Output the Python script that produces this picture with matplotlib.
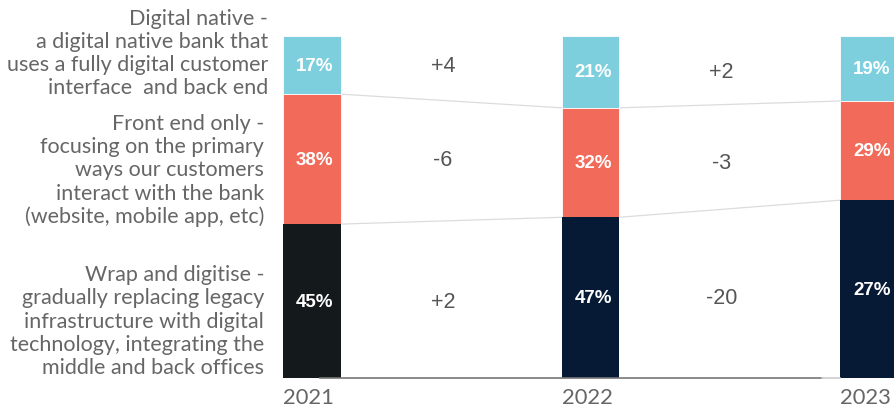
import matplotlib.pyplot as plt

years = ["2021", "2022", "2023"]
digital_native = [17, 21, 19]
front_end = [38, 32, 29]
wrap_digitise = [45, 47, 27]
changes = [["+4", "+2"], ["-6", "-3"], ["+2", "-20"]]

categories = [
    "Digital native -\na digital native bank that\nuses a fully digital customer\ninterface  and back end",
    "Front end only -\nfocusing on the primary\nways our customers\ninteract with the bank\n(website, mobile app, etc)",
    "Wrap and digitise -\ngradually replacing legacy\ninfrastructure with digital\ntechnology, integrating the\nmiddle and back offices",
]

BLUE = "#7dcfdd"
CORAL = "#f26a5a"
DARK = ["#141a1b", "#061a36", "#061a36"]
GREY_TXT = "#666666"

fig = plt.figure(figsize=(8.94, 4.10), dpi=100)
ax = fig.add_axes([0, 0, 1, 1])
ax.set_xlim(-1.1203, 2.0898)
ax.set_ylim(-9.06, 110.82)
ax.axis("off")

x = list(range(len(years)))
width = 0.205

# bars hang down from 100: digital native on top, then front end, wrap fills to the base
for i in x:
    top2 = 100 - digital_native[i]
    top3 = top2 - front_end[i]
    ax.bar(i, digital_native[i], width, bottom=top2, color=BLUE, edgecolor="white", linewidth=0.6)
    ax.bar(i, front_end[i], width, bottom=top3, color=CORAL, edgecolor="white", linewidth=0.6)
    ax.bar(i, top3, width, bottom=0, color=DARK[i], linewidth=0)
    mids = [100 - digital_native[i] / 2, top2 - front_end[i] / 2, top3 / 2]
    vals = [digital_native[i], front_end[i], wrap_digitise[i]]
    for m, v in zip(mids, vals):
        ax.text(i + 0.01, m, f"{v}%", ha="center", va="center", color="white",
                fontsize=13.5, fontweight="bold", family="Liberation Sans")
    ax.text(i - width / 2, -5.6, years[i], ha="left", va="center", color=GREY_TXT,
            fontsize=15.8, family="Lato")

# connector lines between segment boundaries
for i in x[:-1]:
    for cut in (lambda k: 100 - digital_native[k], lambda k: 100 - digital_native[k] - front_end[k]):
        ax.plot([i + width / 2, i + 1 - width / 2], [cut(i), cut(i + 1)],
                color="#dcdcdc", lw=0.9, zorder=0)
    mids = [100 - digital_native[i] / 2,
            100 - digital_native[i] - front_end[i] / 2,
            (100 - digital_native[i] - front_end[i]) / 2]
    for row, m in enumerate(mids):
        ax.text(i + 0.47, m, changes[row][i], ha="center", va="center", color="#555555",
                fontsize=15.5, family="Liberation Sans")

# baseline
ax.plot([0.03, 1.83], [0, 0], color="#777777", lw=1.2, zorder=3)
ax.plot([1.83, 2 - width / 2], [0, 0], color="#cccccc", lw=1.2, zorder=3)

# category descriptions on the left
label_y = [95.2, 60.9, 16.8]
label_x = [-0.158, -0.172, -0.172]
for txt, yy, xx in zip(categories, label_y, label_x):
    ax.text(xx, yy, txt, ha="right", va="center", color=GREY_TXT, fontsize=15.5,
            family="Lato", linespacing=1.2)

fig.savefig("out.png", dpi=100)
